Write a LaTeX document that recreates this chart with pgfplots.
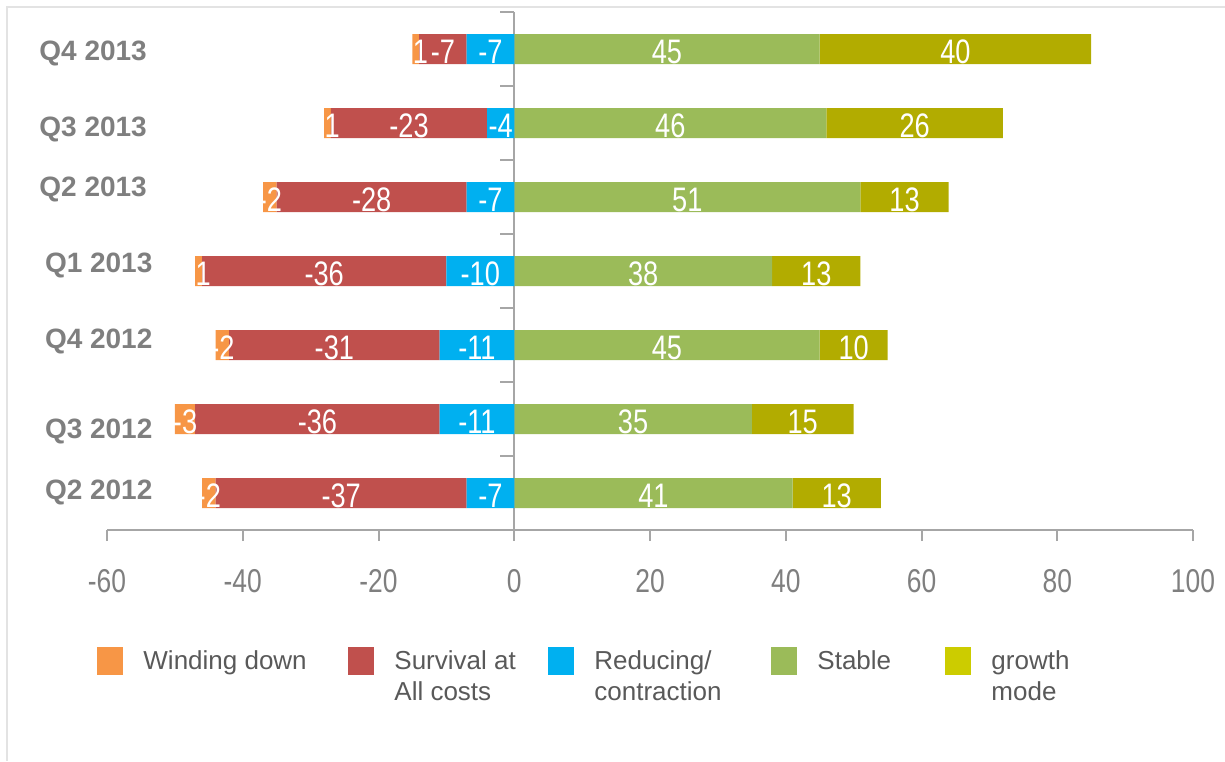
\documentclass[border=0pt]{standalone}
\usepackage{pgfplots}
\pgfplotsset{compat=1.18}
\usepackage{pgfplotstable}
\usepackage{fontspec}
\setmainfont{Liberation Sans}
\newfontfamily\narrowfont[FakeStretch=0.8]{Liberation Sans}

\definecolor{cwind}{HTML}{F79646}
\definecolor{csurv}{HTML}{C0504D}
\definecolor{cred}{HTML}{00B0F0}
\definecolor{cstab}{HTML}{9BBB59}
\definecolor{cgrow}{HTML}{B2AC00}
\definecolor{cgrowleg}{HTML}{CCCC00}
\definecolor{axisgray}{HTML}{A6A6A6}
\definecolor{ticktext}{HTML}{7F7F7F}
\definecolor{labgray}{HTML}{7F7F7F}
\definecolor{legtext}{HTML}{595959}
\definecolor{framegray}{HTML}{E3E3E3}

% category label with individual vertical / horizontal offset
\newcommand\ql[3]{\raisebox{#1}{\hspace*{#2}#3}}

% y: 0 = Q2 2012 ... 6 = Q4 2013
\pgfplotstableread{
y wind surv red stab grow
0 -2 -37 -7  41 13
1 -3 -36 -11 35 15
2 -2 -31 -11 45 10
3 -1 -36 -10 38 13
4 -2 -28 -7  51 13
5 -1 -23 -4  46 26
6 -1 -7  -7  45 40
}\data

\begin{document}
\begin{tikzpicture}
\path[use as bounding box] (0,0) rectangle (612.5pt,380.5pt);
\draw[framegray, line width=1pt] (3.25pt,0) -- (3.25pt,376.75pt) -- (612.5pt,376.75pt);
\begin{axis}[
  at={(53.5pt,115.5pt)}, anchor=south west,
  scale only axis, width=543pt, height=259pt,
  xbar stacked, stack negative=separate, bar width=15pt,
  xmin=-60, xmax=100, ymin=-0.5, ymax=6.5,
  xtick={-60,-40,...,100},
  ytick={0,...,6},
  yticklabels={\ql{2pt}{2.8pt}{Q2 2012},\ql{-4.5pt}{2.8pt}{Q3 2012},\ql{3.5pt}{2.8pt}{Q4 2012},\ql{4.15pt}{2.8pt}{Q1 2013},\ql{5.15pt}{0pt}{Q2 2013},\ql{-1.85pt}{0pt}{Q3 2013},\ql{-0.85pt}{0pt}{Q4 2013}},
  axis x line*=bottom, axis y line*=left,
  x axis line style={draw=axisgray, line width=1pt, -},
  y axis line style={draw=none},
  xtick style={draw=axisgray, line width=1pt},
  ytick style={draw=none},
  tick align=outside, major tick length=5.5pt,
  /pgf/number format/assume math mode=true,
  xticklabel style={font=\narrowfont\fontsize{16.5}{19}\selectfont, text=ticktext, inner sep=0pt, anchor=north, yshift=-14pt},
  yticklabel style={font=\bfseries\fontsize{14}{17}\selectfont, text=labgray, anchor=base west, inner sep=0pt, xshift=-28.5pt, yshift=-5pt},
  clip=false,
  lbl/.style={nodes near coords={\pgfmathprintnumber{\pgfplotspointmeta}},
    point meta=explicit,
    every node near coord/.append style={font=\narrowfont\fontsize{17}{19}\selectfont, text=white, yshift=-1.5pt}},
  legend image code/.code={\fill[#1, draw=none] (0pt,-7pt) rectangle (13pt,7pt);},
  legend style={at={(axis description cs:-0.0147,-0.218)}, anchor=north west, draw=none, fill=none,
    legend columns=5, font=\fontsize{13}{15.5}\selectfont, text=legtext,
    nodes={inner sep=0pt},
    /tikz/every odd column/.append style={column sep=10pt},
    /tikz/every even column/.append style={column sep=0pt}},
  legend cell align=left,
]
\addlegendimage{fill=cwind}
\addlegendentry{\parbox[t]{102.5pt}{Winding down}}
\addlegendimage{fill=csurv}
\addlegendentry{\parbox[t]{77pt}{Survival at\\All costs}}
\addlegendimage{fill=cred}
\addlegendentry{\parbox[t]{88.5pt}{Reducing/\\contraction}}
\addlegendimage{fill=cstab}
\addlegendentry{\parbox[t]{64pt}{Stable}}
\addlegendimage{fill=cgrowleg}
\addlegendentry{\parbox[t]{40pt}{growth\\mode}}

\addplot[fill=cred, draw=none, lbl] table[x=red, y=y, meta=red] {\data};
\addplot[fill=csurv, draw=none, lbl] table[x=surv, y=y, meta=surv] {\data};
\addplot[fill=cwind, draw=none, lbl] table[x=wind, y=y, meta=wind] {\data};
\addplot[fill=cstab, draw=none, lbl] table[x=stab, y=y, meta=stab] {\data};
\addplot[fill=cgrow, draw=none, lbl] table[x=grow, y=y, meta=grow] {\data};

\draw[axisgray, line width=1pt] (axis cs:0,-0.5) -- (axis cs:0,6.5);
\pgfplotsinvokeforeach{0.5,1.5,2.5,3.5,4.5,5.5,6.5}{
  \draw[axisgray, line width=1pt] (axis cs:0,#1) -- ([xshift=-7pt]axis cs:0,#1);
}
\end{axis}
\end{tikzpicture}
\end{document}
